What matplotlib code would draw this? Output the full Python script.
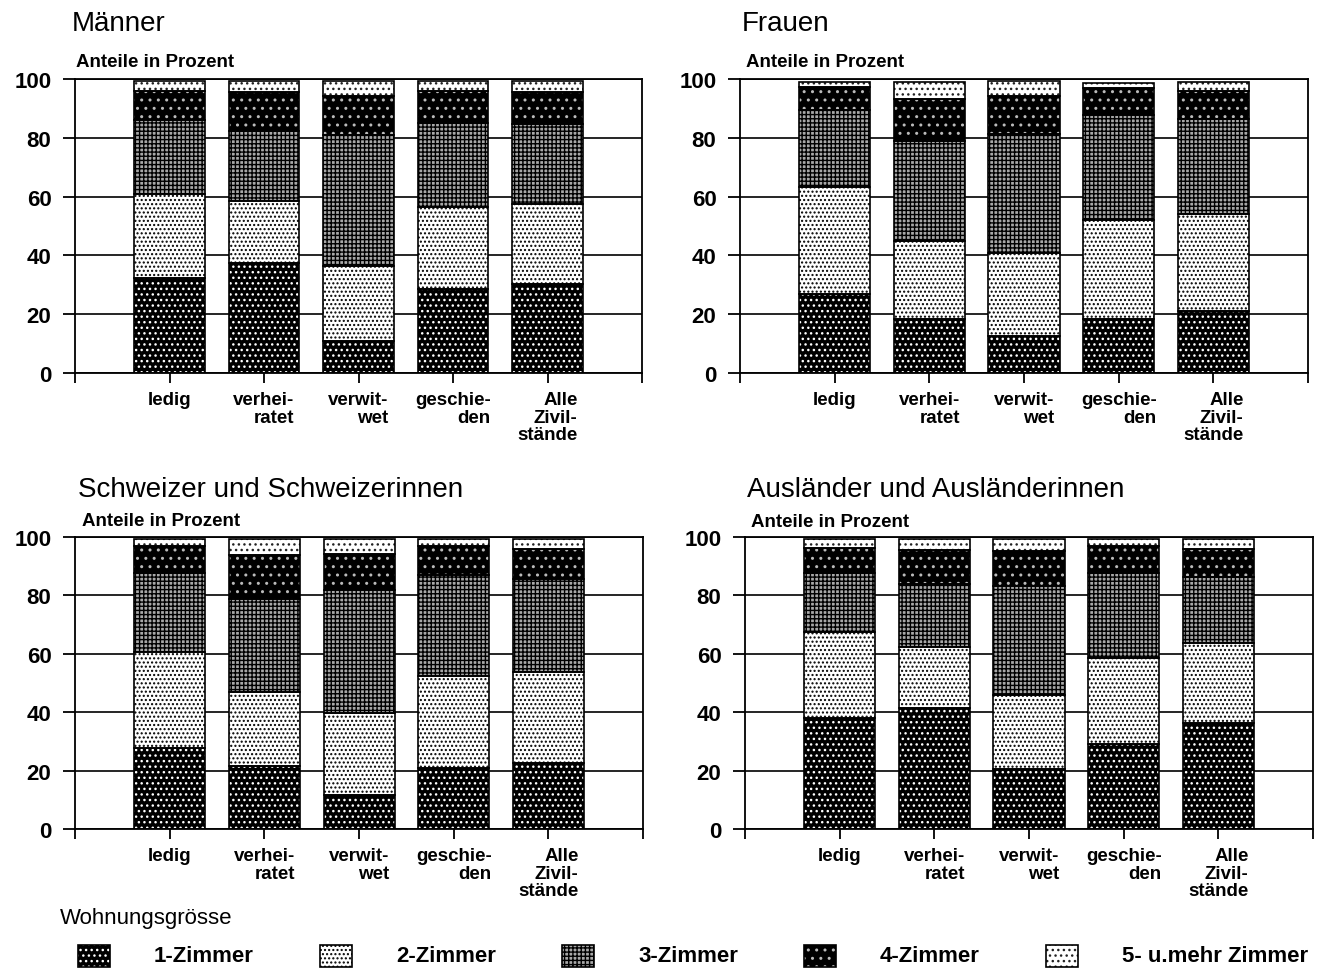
import numpy as np
import matplotlib.pyplot as plt
from matplotlib.patches import Rectangle

plt.rcParams['font.family'] = ['Liberation Sans', 'DejaVu Sans']
plt.rcParams['hatch.linewidth'] = 1.0

# Zivilstand (x-Achse)
kategorien = ['ledig', 'verhei-\nratet', 'verwit-\nwet', 'geschie-\nden', 'Alle\nZivil-\nstände']
zimmer = ['1-Zimmer', '2-Zimmer', '3-Zimmer', '4-Zimmer', '5- u.mehr Zimmer']

# Anteile in Prozent, Zeilen = Wohnungsgrösse, Spalten = Zivilstand
maenner = [
    [32.4, 37.3, 10.9, 28.5, 30.2],
    [28.5, 21.3, 25.5, 27.9, 27.3],
    [25.2, 23.6, 44.6, 28.8, 27.3],
    [9.7, 13.4, 13.1, 10.6, 10.8],
    [3.6, 3.8, 5.3, 3.6, 3.8],
]
frauen = [
    [27.0, 18.4, 12.5, 18.4, 21.0],
    [36.3, 26.4, 28.3, 33.5, 33.1],
    [26.3, 34.0, 40.4, 36.0, 32.3],
    [7.6, 14.4, 13.1, 9.0, 9.4],
    [1.9, 5.8, 4.9, 1.7, 3.2],
]
schweizer = [
    [27.7, 21.5, 11.8, 20.8, 22.5],
    [32.9, 25.4, 28.0, 31.5, 31.2],
    [27.1, 31.7, 42.1, 34.8, 32.0],
    [9.1, 15.1, 12.4, 9.7, 10.1],
    [2.6, 5.7, 5.1, 2.6, 3.6],
]
auslaender = [
    [38.1, 41.5, 20.5, 29.1, 36.4],
    [29.4, 20.9, 25.3, 29.5, 27.3],
    [20.2, 21.6, 37.4, 29.1, 22.6],
    [8.5, 11.4, 12.0, 9.1, 9.5],
    [3.2, 4.0, 4.2, 2.6, 3.6],
]

titel = ['Männer', 'Frauen', 'Schweizer und Schweizerinnen', 'Ausländer und Ausländerinnen']
daten = [maenner, frauen, schweizer, auslaender]

# (Füllfarbe, Schraffurfarbe, Schraffur) je Wohnungsgrösse
muster = [
    ('black', 'white', '...'),
    ('white', 'black', '....'),
    ('#a8a8a8', 'black', '++++'),
    ('black', '#bbbbbb', '..'),
    ('white', '#222222', '...'),
]

fig = plt.figure(figsize=(13.21, 9.70), dpi=100)

# [links, unten, breite, höhe] in Pixel
boxen = [(75, 374, 567, 294), (740, 374, 568, 294),
         (75, 830, 568, 292), (745, 830, 568, 292)]
titel_pos = [(72, 31, 67), (742, 31, 67), (78, 497, 526), (747, 497, 527)]

W, H = 1321, 970
x = np.arange(len(kategorien))

for k in range(4):
    l, b, w, h = boxen[k]
    ax = fig.add_axes([l / W, 1 - b / H, w / W, h / H])
    werte = np.array(daten[k])
    unten = np.zeros(len(kategorien))
    for i in range(len(zimmer)):
        fc, hc, ht = muster[i]
        ax.bar(x, werte[i], bottom=unten, width=0.75, color=fc, edgecolor=hc,
               hatch=ht, linewidth=0, zorder=2)
        ax.bar(x, werte[i], bottom=unten, width=0.75, fill=False,
               edgecolor='black', linewidth=1.2, zorder=3)
        unten += werte[i]
    ax.set_xlim(-1, 5)
    ax.set_ylim(0, 100)
    ax.set_yticks([0, 20, 40, 60, 80, 100])
    ax.set_xticks(np.arange(-1, 6))
    ax.set_xticklabels([''] + kategorien + [''], fontsize=13.5, fontweight='bold',
                       linespacing=1.05, va='top')
    ax.tick_params(axis='y', direction='out', length=9, width=1.3, pad=8,
                   labelsize=16)
    ax.tick_params(axis='x', direction='out', length=7, width=1.3, pad=6)
    for t in ax.get_yticklabels():
        t.set_fontweight('bold')
    for t in ax.get_xticklabels():
        t.set_multialignment('right')
    ax.grid(axis='y', color='black', linewidth=1.2)
    ax.set_axisbelow(True)
    for s in ax.spines.values():
        s.set_linewidth(1.3)

    tx, ty1, ty2 = titel_pos[k]
    fig.text(tx / W, 1 - ty1 / H, titel[k], fontsize=20, va='baseline', ha='left')
    fig.text((tx + 4) / W, 1 - ty2 / H, 'Anteile in Prozent', fontsize=13.5,
             fontweight='bold', va='baseline', ha='left')

# Legende
fig.text(60 / W, 1 - 924 / H, 'Wohnungsgrösse', fontsize=16, va='baseline', ha='left')
for i in range(len(zimmer)):
    fc, hc, ht = muster[i]
    px = 78 + i * 242
    fig.patches.append(Rectangle((px / W, 1 - 968 / H), 32 / W, 22 / H,
                                 facecolor=fc, edgecolor=hc, hatch=ht, linewidth=0,
                                 transform=fig.transFigure, figure=fig))
    fig.patches.append(Rectangle((px / W, 1 - 968 / H), 32 / W, 22 / H,
                                 fill=False, edgecolor='black', linewidth=1.2,
                                 transform=fig.transFigure, figure=fig))
    fig.text((px + 76) / W, 1 - 962 / H, zimmer[i], fontsize=16, fontweight='bold',
             va='baseline', ha='left')

fig.savefig('out.png', dpi=100)
